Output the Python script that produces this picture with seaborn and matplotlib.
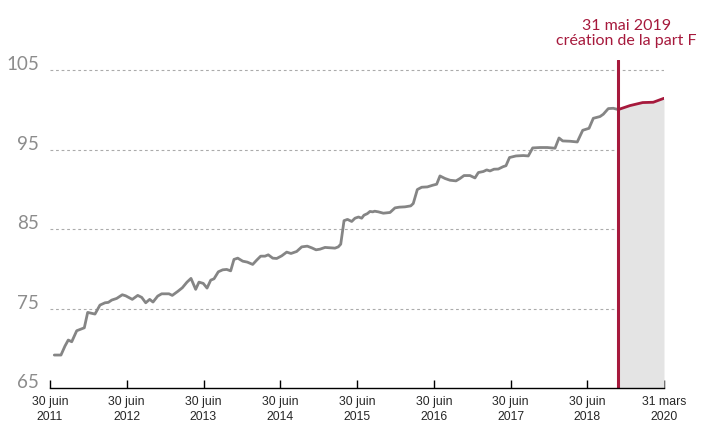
import pandas as pd
import matplotlib
matplotlib.use("Agg")
import matplotlib.pyplot as plt
from matplotlib import font_manager
import seaborn as sns

# ── Data (x = position on the axis, 1 unit per tick interval) ─────────────────
tick_labels = ["30 juin\n2011", "30 juin\n2012", "30 juin\n2013", "30 juin\n2014",
               "30 juin\n2015", "30 juin\n2016", "30 juin\n2017", "30 juin\n2018",
               "31 mars\n2020"]
y_ticks = [65, 75, 85, 95, 105]

hist_x = [0.056, 0.143, 0.195, 0.238, 0.283, 0.348, 0.447, 0.491, 0.586, 0.651,
          0.717, 0.760, 0.804, 0.869, 0.942, 0.986, 1.072, 1.143, 1.195, 1.247,
          1.299, 1.342, 1.403, 1.455, 1.550, 1.593, 1.664, 1.724, 1.785, 1.837,
          1.898, 1.941, 1.997, 2.046, 2.094, 2.137, 2.193, 2.250, 2.302, 2.354,
          2.397, 2.446, 2.511, 2.571, 2.641, 2.693, 2.745, 2.801, 2.844, 2.902,
          2.954, 3.019, 3.084, 3.140, 3.214, 3.280, 3.352, 3.410, 3.466, 3.518,
          3.583, 3.657, 3.713, 3.756, 3.788, 3.831, 3.876, 3.931, 3.974, 4.020,
          4.061, 4.091, 4.134, 4.169, 4.205, 4.231, 4.278, 4.343, 4.430, 4.495,
          4.551, 4.625, 4.700, 4.733, 4.786, 4.843, 4.916, 4.986, 5.038, 5.081,
          5.147, 5.212, 5.290, 5.342, 5.394, 5.472, 5.537, 5.581, 5.646, 5.690,
          5.733, 5.785, 5.841, 5.902, 5.941, 5.987, 6.072, 6.167, 6.232, 6.289,
          6.384, 6.480, 6.580, 6.632, 6.680, 6.775, 6.870, 6.941, 7.023, 7.079,
          7.166, 7.209, 7.274, 7.339, 7.404]
hist_y = [69.15, 69.15, 70.28, 71.04, 70.82, 72.21, 72.58, 74.52, 74.31, 75.44,
          75.73, 75.78, 76.07, 76.28, 76.74, 76.61, 76.16, 76.66, 76.41, 75.73,
          76.16, 75.82, 76.57, 76.86, 76.86, 76.66, 77.16, 77.62, 78.33, 78.80,
          77.42, 78.33, 78.17, 77.58, 78.58, 78.75, 79.63, 79.88, 79.93, 79.75,
          81.19, 81.35, 80.97, 80.85, 80.56, 81.10, 81.60, 81.60, 81.77, 81.35,
          81.31, 81.64, 82.11, 81.94, 82.19, 82.77, 82.86, 82.65, 82.40, 82.48,
          82.70, 82.65, 82.61, 82.77, 83.11, 86.07, 86.23, 85.97, 86.38, 86.53,
          86.38, 86.76, 86.95, 87.23, 87.18, 87.26, 87.18, 87.01, 87.10, 87.68,
          87.77, 87.81, 87.93, 88.23, 89.99, 90.28, 90.32, 90.53, 90.66, 91.70,
          91.38, 91.16, 91.08, 91.38, 91.75, 91.75, 91.45, 92.13, 92.26, 92.46,
          92.33, 92.55, 92.57, 92.86, 92.99, 94.02, 94.22, 94.27, 94.22, 95.23,
          95.28, 95.28, 95.19, 96.48, 96.11, 96.07, 95.98, 97.45, 97.70, 98.96,
          99.18, 99.47, 100.18, 100.22, 100.06]

# part F, from its creation (31 mai 2019) to 31 mars 2020
partf_x = [7.404, 7.557, 7.722, 7.860, 8.0]
partf_y = [100.06, 100.56, 100.94, 100.98, 101.48]
launch_x = 7.404

hist = pd.DataFrame({"x": hist_x, "y": hist_y})
partf = pd.DataFrame({"x": partf_x, "y": partf_y})

GREY = "#858585"
RED = "#A6193C"

# narrow font for the date labels if there is one
installed = {f.name for f in font_manager.fontManager.ttflist}
if "Liberation Sans Narrow" in installed:
    tick_font, tick_size = "Liberation Sans Narrow", 9.5
else:
    tick_font, tick_size = "Liberation Sans", 8.8

# ── Layout ─────────────────────────────────────────────────────────────────────
sns.set_theme(style="white")
plt.rcParams["font.family"] = ["Lato", "DejaVu Sans"]

fig = plt.figure(figsize=(7.02, 4.23), dpi=100)
ax = fig.add_axes([50 / 702, 35 / 423, 614 / 702, 328 / 423])

ax.fill_between(partf["x"], 65, partf["y"], color="#e4e4e4", lw=0, zorder=1)
sns.lineplot(data=hist, x="x", y="y", color=GREY, linewidth=2.0, ax=ax,
             sort=False, zorder=3)
sns.lineplot(data=partf, x="x", y="y", color=RED, linewidth=2.0, ax=ax,
             sort=False, zorder=4)
ax.axvline(launch_x, color=RED, linewidth=2.2, zorder=5)

ax.set_xlim(0, 8)
ax.set_ylim(65, 106.3)

# grid
for v in y_ticks[1:]:
    ax.axhline(v, color="#ababab", linewidth=0.8, linestyle=(0, (2.5, 2.5)), zorder=0)

# axes
for s in ["top", "right", "left"]:
    ax.spines[s].set_visible(False)
ax.spines["bottom"].set_color("black")
ax.spines["bottom"].set_linewidth(1.0)
ax.spines["bottom"].set_zorder(6)

ax.set_xticks(range(len(tick_labels)))
ax.set_xticklabels(tick_labels, fontsize=tick_size, linespacing=1.3,
                   family=[tick_font, "DejaVu Sans"])
ax.tick_params(axis="x", direction="in", length=5.5, width=1.0, color="black",
               pad=6, bottom=True)

ax.set_yticks(y_ticks)
ax.set_yticklabels([str(v) for v in y_ticks], fontsize=13.5, color="#8c8c8c")
ax.tick_params(axis="y", length=0, pad=8)
for lab in ax.get_yticklabels():
    lab.set_verticalalignment("baseline")

ax.set_xlabel("")
ax.set_ylabel("")

ax.text(7.51, 107.8, "31 mai 2019\ncréation de la part F", color=RED,
        fontsize=11.5, ha="center", va="bottom", linespacing=1.1, clip_on=False)

plt.savefig("out.png", dpi=100)
